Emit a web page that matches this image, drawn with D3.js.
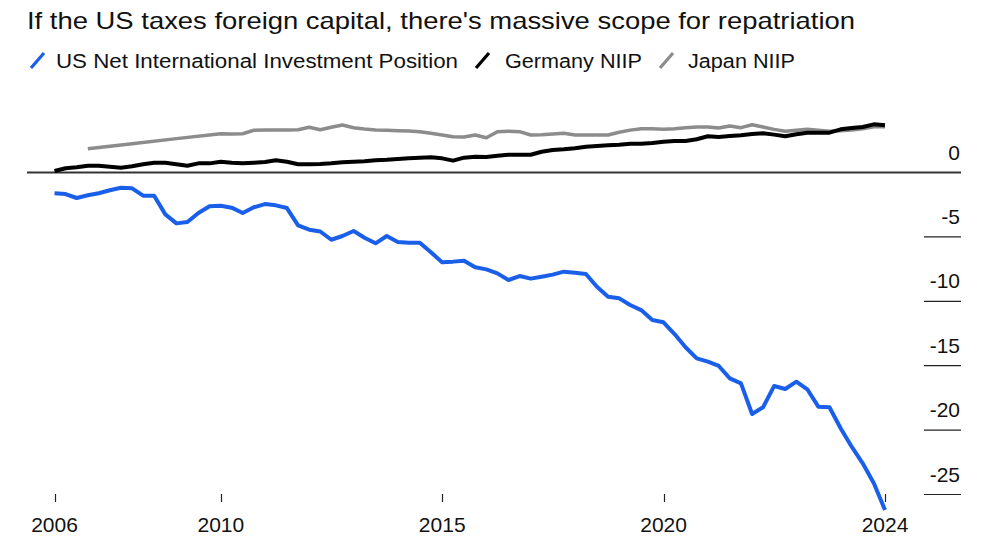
<!DOCTYPE html>
<html>
<head>
<meta charset="utf-8">
<script src="https://cdn.jsdelivr.net/npm/d3@7"></script>
<style>
  body { margin: 0; background: #fff; }
  svg text { font-family: "Liberation Sans", Arial, sans-serif; fill: #111; }
</style>
</head>
<body>
<svg id="chart" width="1000" height="545"></svg>
<script>
// quarterly, 2006 Q1 .. 2024 Q4, trillions of dollars
const firstYear = 2006;
const nQuarters = 76;
const quarters = d3.range(nQuarters).map(i => new Date(Date.UTC(firstYear + Math.floor(i / 4), (i % 4) * 3 + 3, 0)));

const usNIIP = [
  -1.61, -1.67, -1.98, -1.77, -1.61, -1.38, -1.18, -1.23, -1.80, -1.80,
  -3.25, -3.95, -3.84, -3.14, -2.62, -2.58, -2.73, -3.14, -2.70, -2.45,
  -2.55, -2.76, -4.10, -4.44, -4.58, -5.22, -4.93, -4.54, -5.06, -5.50,
  -4.93, -5.40, -5.45, -5.45, -6.20, -6.97, -6.92, -6.85, -7.36, -7.52,
  -7.83, -8.35, -8.04, -8.24, -8.09, -7.93, -7.70, -7.78, -7.88, -8.87,
  -9.64, -9.77, -10.29, -10.68, -11.45, -11.63, -12.54, -13.57, -14.43, -14.69,
  -15.02, -15.98, -16.37, -18.75, -18.23, -16.58, -16.81, -16.24, -16.83, -18.18,
  -18.23, -19.86, -21.29, -22.58, -24.13, -26.2
];
const germanyNIIP = [
  0.12, 0.33, 0.40, 0.53, 0.53, 0.45, 0.37, 0.48, 0.64, 0.76,
  0.76, 0.64, 0.53, 0.71, 0.71, 0.84, 0.76, 0.71, 0.76, 0.82,
  0.95, 0.84, 0.64, 0.64, 0.66, 0.71, 0.79, 0.84, 0.87, 0.95,
  0.99, 1.05, 1.10, 1.15, 1.18, 1.10, 0.92, 1.15, 1.23, 1.20,
  1.30, 1.38, 1.38, 1.38, 1.61, 1.75, 1.80, 1.88, 2.00, 2.06,
  2.11, 2.15, 2.23, 2.24, 2.29, 2.39, 2.45, 2.45, 2.58, 2.81,
  2.76, 2.83, 2.89, 2.99, 3.04, 2.94, 2.81, 2.97, 3.09, 3.09,
  3.09, 3.35, 3.45, 3.53, 3.74, 3.66
];
// annual readings until 2009, quarterly afterwards
const japanNIIP = [
  null, null, null, 1.85, null, null, null, 2.24, null, null,
  null, 2.63, null, null, null, 3.01, 2.99, 3.01, 3.28, 3.30,
  3.30, 3.30, 3.32, 3.51, 3.32, 3.51, 3.69, 3.48, 3.38, 3.30,
  3.28, 3.25, 3.22, 3.17, 3.04, 2.91, 2.78, 2.76, 2.91, 2.70,
  3.17, 3.20, 3.17, 2.91, 2.94, 2.99, 3.04, 2.91, 2.91, 2.91,
  2.91, 3.12, 3.29, 3.40, 3.40, 3.35, 3.40, 3.48, 3.53, 3.53,
  3.45, 3.61, 3.48, 3.71, 3.53, 3.35, 3.20, 3.28, 3.35, 3.28,
  3.20, 3.25, 3.30, 3.40, 3.55, 3.55
];

const yTicks = [0, -5, -10, -15, -20, -25];
const xTickYears = [2010, 2015, 2020];

const series = [
  { name: "Japan NIIP", values: japanNIIP, color: "#8c8c8c", width: 3.5 },
  { name: "Germany NIIP", values: germanyNIIP, color: "#000000", width: 4 },
  { name: "US Net International Investment Position", values: usNIIP, color: "#1a5fea", width: 4 }
];
const legendOrder = [2, 1, 0];

const svg = d3.select("#chart");

const x = d3.scaleUtc()
  .domain([quarters[0], quarters[nQuarters - 1]])
  .range([54.5, 885]);
const y = d3.scaleLinear()
  .domain([0, -25])
  .range([172.5, 494.5]);

// title
svg.append("text")
  .attr("x", 27).attr("y", 29)
  .attr("font-size", 24)
  .attr("textLength", 828).attr("lengthAdjust", "spacingAndGlyphs")
  .text("If the US taxes foreign capital, there's massive scope for repatriation");

// legend
const legendPos = [
  { sx: 31, tx: 56, tw: 402 },
  { sx: 476, tx: 505, tw: 137 },
  { sx: 660, tx: 688, tw: 107 }
];
legendOrder.forEach((si, k) => {
  const s = series[si], p = legendPos[k];
  svg.append("line")
    .attr("x1", p.sx).attr("y1", 68).attr("x2", p.sx + 13).attr("y2", 53)
    .attr("stroke", s.color).attr("stroke-width", 3.2);
  svg.append("text")
    .attr("x", p.tx).attr("y", 68)
    .attr("font-size", 20)
    .attr("textLength", p.tw).attr("lengthAdjust", "spacingAndGlyphs")
    .text(s.name);
});

// y grid ticks on the right
const yAxis = svg.append("g");
yTicks.forEach(t => {
  yAxis.append("line")
    .attr("x1", t === 0 ? 27 : 924).attr("x2", 961)
    .attr("y1", y(t)).attr("y2", y(t))
    .attr("stroke", t === 0 ? "#333" : "#222")
    .attr("stroke-width", t === 0 ? 1.8 : 1.2);
  yAxis.append("text")
    .attr("x", 960).attr("y", y(t) - 13)
    .attr("text-anchor", "end")
    .attr("font-size", 21)
    .text(t);
});

// x ticks
const xTicks = [
  { date: quarters[0], label: String(firstYear) },
  ...xTickYears.map(yr => ({ date: new Date(Date.UTC(yr, 0, 1)), label: String(yr) })),
  { date: quarters[nQuarters - 1], label: String(quarters[nQuarters - 1].getUTCFullYear()) }
];
const xAxis = svg.append("g");
xTicks.forEach(t => {
  const px = Math.round(x(t.date)) + 0.5;
  xAxis.append("line")
    .attr("x1", px).attr("x2", px).attr("y1", 494).attr("y2", 502)
    .attr("stroke", "#222").attr("stroke-width", 1.2);
  xAxis.append("text")
    .attr("x", x(t.date)).attr("y", 532)
    .attr("text-anchor", "middle")
    .attr("font-size", 21)
    .text(t.label);
});

// lines
const line = d3.line()
  .x(d => x(d.date))
  .y(d => y(d.value));
series.forEach(s => {
  const pts = quarters.map((date, i) => ({ date, value: s.values[i] }))
    .filter(d => d.value !== null);
  svg.append("path")
    .datum(pts)
    .attr("fill", "none")
    .attr("stroke", s.color)
    .attr("stroke-width", s.width)
    .attr("stroke-linejoin", "round")
    .attr("d", line);
});
</script>
</body>
</html>
